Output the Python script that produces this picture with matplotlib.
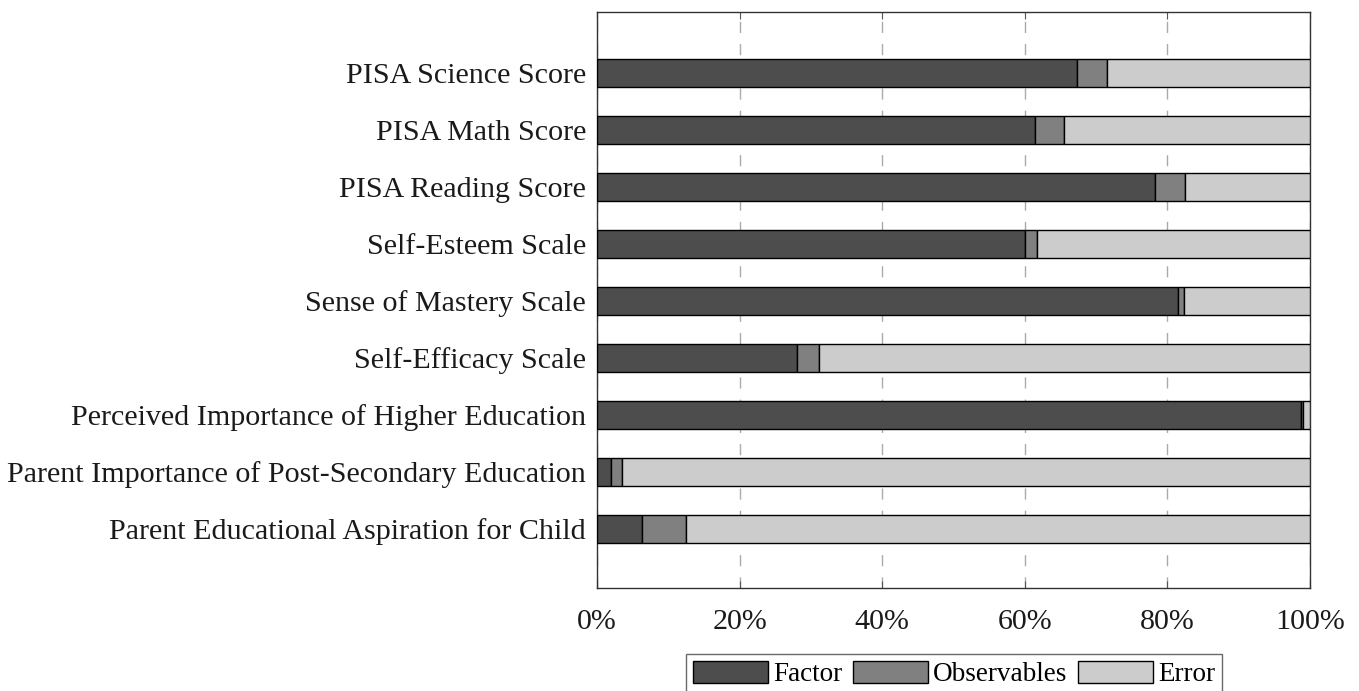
import matplotlib.pyplot as plt

categories = [
    'Parent Educational Aspiration for Child',
    'Parent Importance of Post-Secondary Education',
    'Perceived Importance of Higher Education',
    'Self-Efficacy Scale',
    'Sense of Mastery Scale',
    'Self-Esteem Scale',
    'PISA Reading Score',
    'PISA Math Score',
    'PISA Science Score',
]
factor      = [6.3, 1.9, 98.8, 28.0, 81.5, 60.0, 78.2, 61.5, 67.3]
observables = [6.2, 1.6, 0.2, 3.2, 0.8, 1.7, 4.2, 4.0, 4.2]
error       = [87.5, 96.5, 1.0, 68.8, 17.7, 38.3, 17.6, 34.5, 28.5]

series = ['Factor', 'Observables', 'Error']
colors = ['#4d4d4d', '#808080', '#cccccc']

plt.rcParams['font.family'] = ['Liberation Serif', 'DejaVu Serif']

fig = plt.figure(figsize=(13.59, 6.91), dpi=100)
ax = fig.add_axes([597 / 1359, 1 - 588 / 691, 713 / 1359, 576 / 691])

ypos = list(range(1, len(categories) + 1))
left = [0] * len(categories)
for name, vals, c in zip(series, [factor, observables, error], colors):
    ax.barh(ypos, vals, left=left, height=0.5, color=c, edgecolor='black',
            linewidth=1, label=name, zorder=3)
    left = [l + v for l, v in zip(left, vals)]

ax.set_xlim(0, 100)
ax.set_ylim(-0.035, 10.07)
ax.set_xticks([0, 20, 40, 60, 80, 100])
ax.set_xticklabels([f'{t}%' for t in [0, 20, 40, 60, 80, 100]])
ax.set_yticks(ypos)
ax.set_yticklabels(categories)
ax.tick_params(axis='both', labelsize=21.6, direction='in', colors='#555555',
               labelcolor='#1a1a1a', top=True, right=True, length=5)
ax.tick_params(axis='x', pad=15)
ax.tick_params(axis='y', pad=8)
ax.grid(axis='x', linestyle=(0, (8, 8)), color='#aaaaaa', linewidth=1, zorder=0)
for s in ax.spines.values():
    s.set_color('#333333')
    s.set_linewidth(1)

leg = fig.legend(loc='center', bbox_to_anchor=(954 / 1359, 1 - 674 / 691), ncol=3,
                 fontsize=19.5, frameon=True, fancybox=False, edgecolor='#444444',
                 handlelength=2.77, handleheight=0.92, handletextpad=0.18,
                 columnspacing=0.4, borderpad=0.25, borderaxespad=0)
leg.get_frame().set_linewidth(1)

fig.savefig('out.png', dpi=100)
